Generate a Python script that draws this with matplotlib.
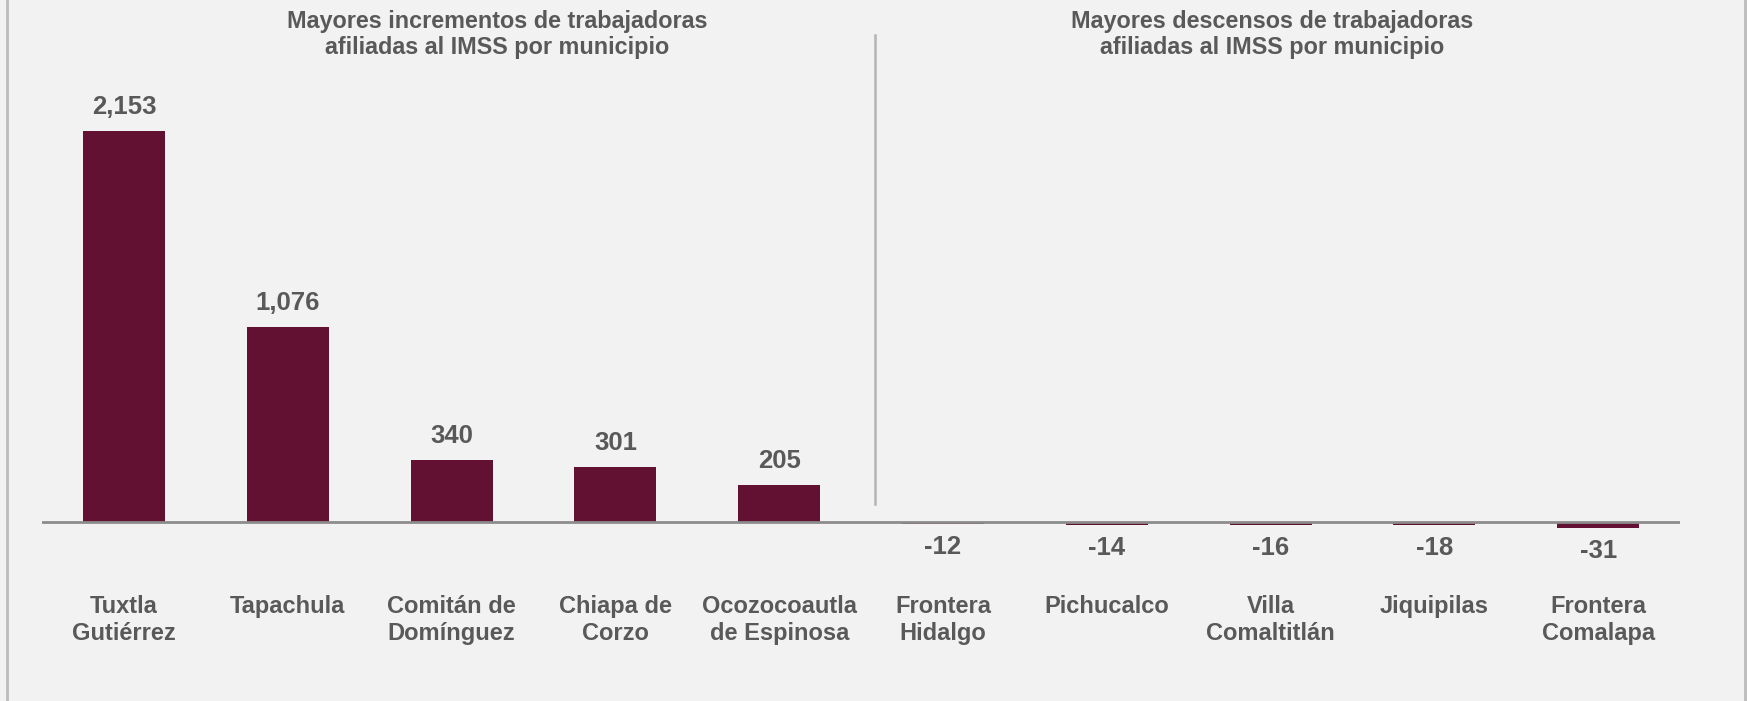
import matplotlib.pyplot as plt
from matplotlib.lines import Line2D

municipios = [
    "Tuxtla\nGutiérrez", "Tapachula", "Comitán de\nDomínguez", "Chiapa de\nCorzo",
    "Ocozocoautla\nde Espinosa", "Frontera\nHidalgo", "Pichucalco", "Villa\nComaltitlán",
    "Jiquipilas", "Frontera\nComalapa",
]
variacion = [2153, 1076, 340, 301, 205, -12, -14, -16, -18, -31]

titulo_izq = "Mayores incrementos de trabajadoras\nafiliadas al IMSS por municipio"
titulo_der = "Mayores descensos de trabajadoras\nafiliadas al IMSS por municipio"

bg = "#f2f2f2"
bar_color = "#621132"
text_color = "#595959"

plt.rcParams['font.family'] = ['Liberation Sans', 'DejaVu Sans']

fig = plt.figure(figsize=(17.47, 7.01), dpi=100, facecolor=bg)
ax = fig.add_axes([0.0241, 0.1441, 0.9376, 0.8131], facecolor=bg)

x = list(range(len(variacion)))
ax.bar(x, variacion, width=0.5, color=bar_color, zorder=2)
ax.axhline(0, color="#8c8c8c", linewidth=2, zorder=3)
ax.axvline(4.585, ymin=0.168, ymax=0.991, color="#b4b4b4", linewidth=1.8)

ax.set_xlim(-0.5, 9.5)
ax.set_ylim(-430, 2712)
ax.set_xticks([])
ax.set_yticks([])
for s in ax.spines.values():
    s.set_visible(False)

for xi, v, name in zip(x, variacion, municipios):
    off = 24 if v > 0 else -23
    ax.annotate(f"{v:,}", xy=(xi, v), xytext=(0, off), textcoords="offset pixels",
                ha="center", va="center", fontsize=18.5, fontweight="bold", color=text_color)
    ax.annotate(name, xy=(xi, 0), xytext=(0, -73), textcoords="offset pixels",
                ha="center", va="top", fontsize=17, fontweight="bold", color=text_color,
                linespacing=1.25)

fig.text(0.2845, 0.986, titulo_izq, ha="center", va="top", fontsize=16.8,
         fontweight="bold", color=text_color, linespacing=1.2)
fig.text(0.728, 0.986, titulo_der, ha="center", va="top", fontsize=16.8,
         fontweight="bold", color=text_color, linespacing=1.2)

# marco lateral
fig.add_artist(Line2D([7 / 1747, 7 / 1747], [0, 1], transform=fig.transFigure,
                      color="#bcbcbc", linewidth=2))
fig.add_artist(Line2D([1745 / 1747, 1745 / 1747], [0, 1], transform=fig.transFigure,
                      color="#bcbcbc", linewidth=2))

fig.savefig("out.png", dpi=100, facecolor=bg)
